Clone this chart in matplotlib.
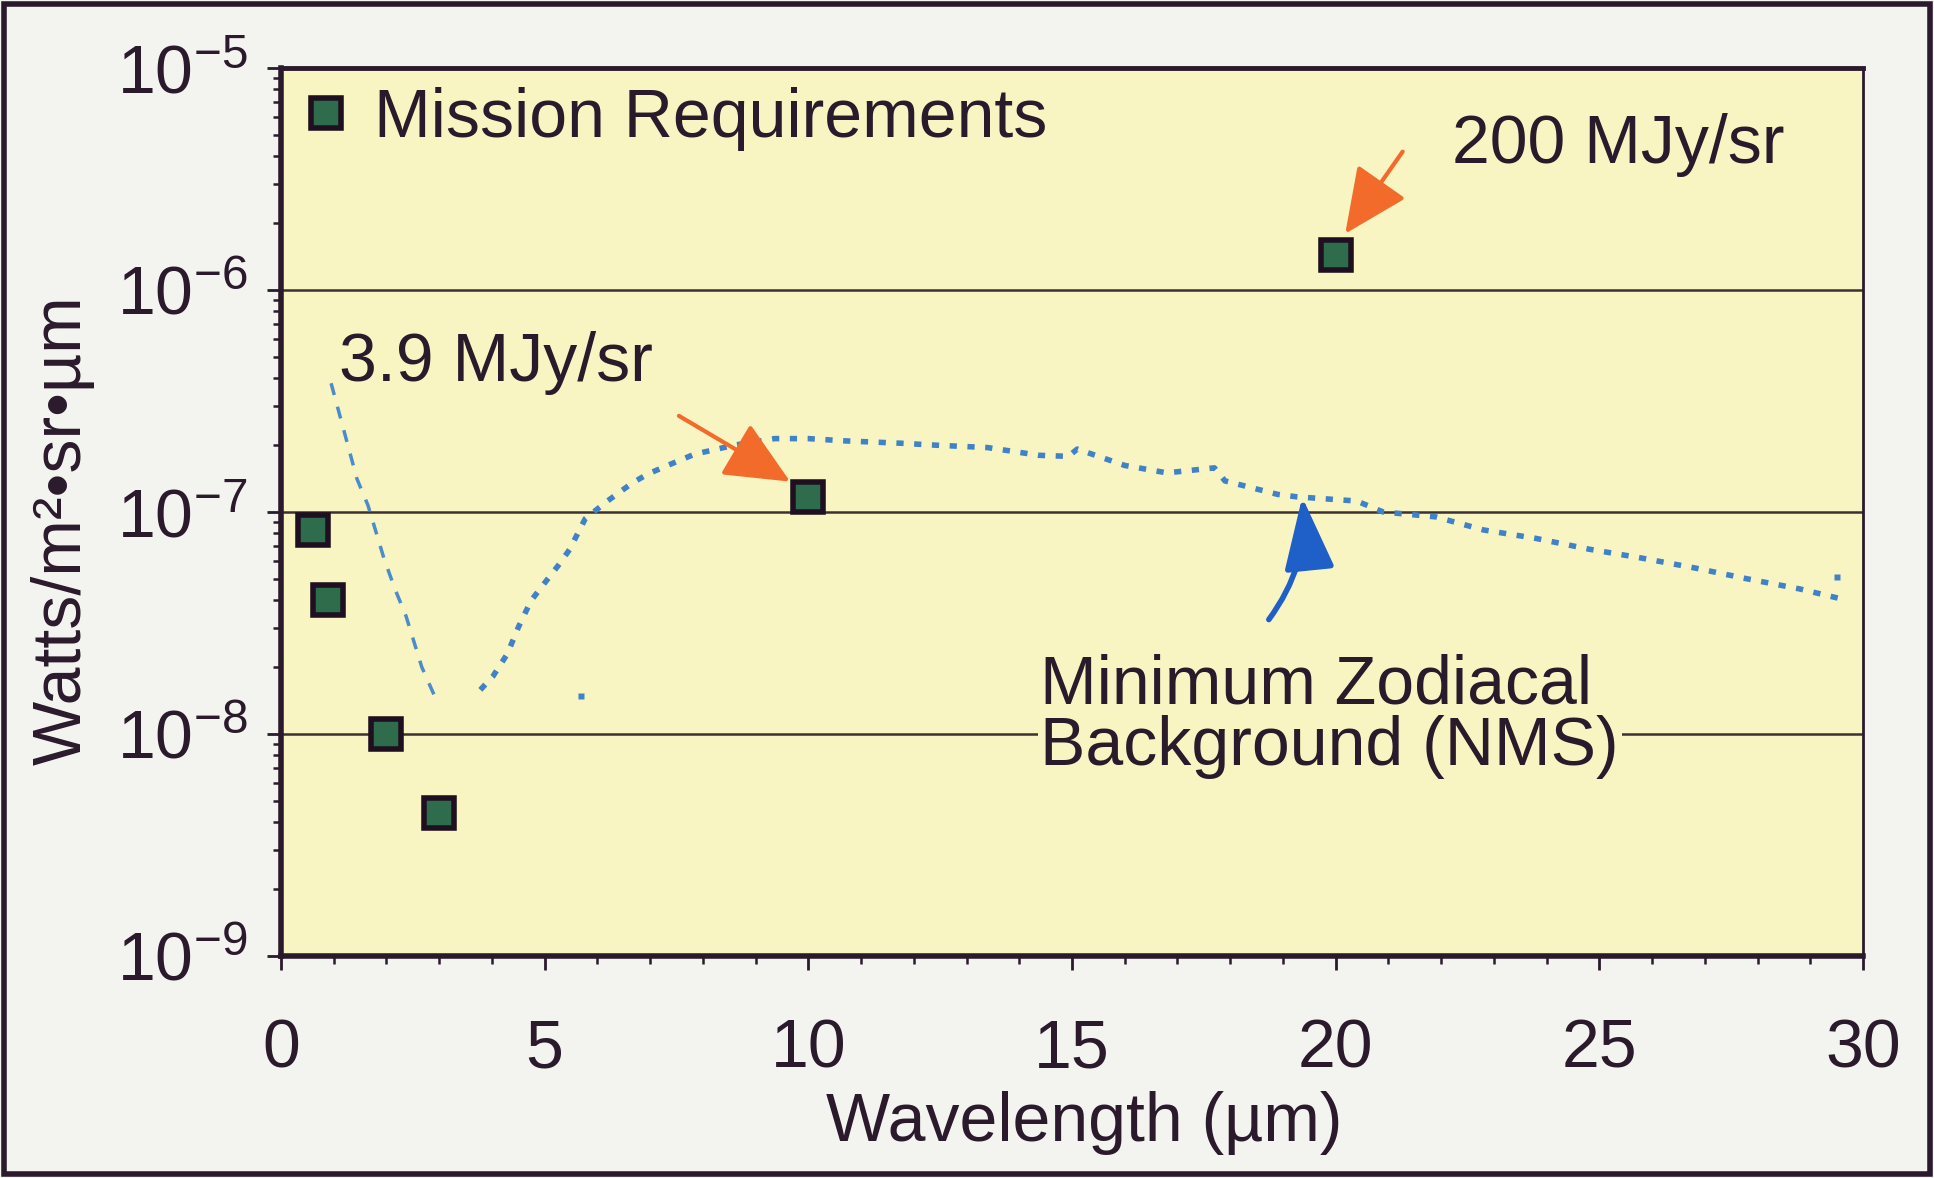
import numpy as np
import matplotlib
matplotlib.use("Agg")
import matplotlib.pyplot as plt
from matplotlib.ticker import FixedLocator, MultipleLocator, FuncFormatter, LogLocator, NullFormatter
from matplotlib.patches import Rectangle

plt.rcParams['font.family'] = ['Liberation Sans', 'DejaVu Sans']
plt.rcParams['mathtext.fontset'] = 'custom'
plt.rcParams['mathtext.rm'] = 'Liberation Sans'

# mission requirement points (wavelength um, W/m2/sr/um)
req_wl = [0.6, 0.9, 2.0, 3.0, 10.0, 20.0]
req_val = [8.3e-8, 4.0e-8, 1.0e-8, 4.4e-9, 1.17e-7, 1.44e-6]

# minimum zodiacal background, short wavelength part (dashed)
zodi_wl_short = [0.95, 1.44, 1.65, 1.95, 2.16, 2.37, 2.67, 2.97]
zodi_val_short = [3.8e-7, 1.41e-7, 1.07e-7, 6.2e-8, 4.5e-8, 3.4e-8, 2.0e-8, 1.38e-8]

# minimum zodiacal background, rest (dotted)
zodi_wl = [3.78, 4.02, 4.29, 4.5, 4.74, 5.0, 5.26, 5.47, 5.77, 6.19, 6.66, 6.95, 7.33,
           7.84, 8.6, 9.36, 10.0, 10.7, 11.75, 12.4, 13.4, 14.37, 14.93, 15.1, 16.0,
           16.8, 17.7, 17.9, 18.9, 19.26, 20.4, 20.9, 21.9, 22.8, 23.8, 24.8, 25.8,
           26.8, 27.8, 28.8, 29.7]
zodi_val = [1.58e-8, 1.82e-8, 2.29e-8, 3.02e-8, 3.98e-8, 4.79e-8, 5.75e-8, 6.76e-8,
            9.33e-8, 1.12e-7, 1.35e-7, 1.48e-7, 1.62e-7, 1.82e-7, 2.0e-7, 2.14e-7,
            2.14e-7, 2.09e-7, 2.04e-7, 2.0e-7, 1.95e-7, 1.80e-7, 1.78e-7, 1.92e-7,
            1.62e-7, 1.50e-7, 1.58e-7, 1.38e-7, 1.2e-7, 1.17e-7, 1.12e-7, 1.0e-7,
            9.5e-8, 8.3e-8, 7.6e-8, 6.8e-8, 6.2e-8, 5.6e-8, 5.0e-8, 4.5e-8, 4.0e-8]
stray_wl = [5.68, 29.5]
stray_val = [1.48e-8, 5.1e-8]

y_exponents = [-9, -8, -7, -6, -5]
grid_levels = [1e-8, 1e-7, 1e-6]
x_ticks = [0, 5, 10, 15, 20, 25, 30]

ink = '#2a1a2c'
yellow = '#f8f5c2'
blue = '#3f82c8'
fs = 49

fig = plt.figure(figsize=(19.34, 11.78), dpi=100)
fig.patch.set_facecolor('#f3f3f0')
ax = fig.add_axes([0.1453, 0.1885, 0.8180, 0.7538])
ax.set_facecolor(yellow)

# horizontal lines
for g in grid_levels:
    ax.axhline(g, color='#3a3035', lw=1.8, zorder=1)

ax.plot(zodi_wl_short, zodi_val_short, color='#4a8ccc', lw=2.5,
        linestyle=(0, (3.5, 3.5)), zorder=2)
ax.plot(zodi_wl, zodi_val, color=blue, lw=4, linestyle=(0, (1.3, 1.9)), zorder=2)
ax.plot(stray_wl, stray_val, 's', color=blue, ms=4, mec='none', ls='none', zorder=2)

ax.plot(req_wl, req_val, 's', ms=21, mfc='#2f6c4c', mec='#1e1020', mew=4,
        ls='none', label='Mission Requirements', zorder=4)

ax.set_yscale('log')
ax.set_xlim(0, 30)
ax.set_ylim(1e-9, 1e-5)

ax.yaxis.set_major_locator(FixedLocator([10.0 ** e for e in y_exponents]))
ax.yaxis.set_minor_locator(LogLocator(base=10, subs=np.arange(2, 10)))
ax.yaxis.set_minor_formatter(NullFormatter())
ax.yaxis.set_major_formatter(FuncFormatter(
    lambda v, p: r'$\mathregular{10^{%d}}$' % int(round(np.log10(v)))))
ax.xaxis.set_major_locator(FixedLocator(x_ticks))
ax.xaxis.set_minor_locator(MultipleLocator(1))

ax.tick_params(axis='both', which='major', direction='out', length=10, width=2,
               color=ink, labelcolor=ink, labelsize=fs)
ax.tick_params(axis='both', which='minor', direction='out', length=6, width=1.8, color=ink)
ax.tick_params(axis='x', which='major', pad=34)
ax.tick_params(axis='y', which='major', pad=14)

for side, w in [('left', 4), ('bottom', 4), ('top', 3.5), ('right', 2)]:
    ax.spines[side].set_linewidth(w)
    ax.spines[side].set_color(ink)

ax.set_xlabel('Wavelength (µm)', fontsize=fs, color=ink)
ax.set_ylabel('Watts/m²•sr•µm', fontsize=fs, color=ink)
ax.xaxis.set_label_coords(0.508, -0.152)
ax.yaxis.set_label_coords(-0.118, 0.48)

leg = ax.legend(loc='upper left', bbox_to_anchor=(-0.021, 1.048), frameon=False,
                fontsize=fs, handlelength=0.5, handletextpad=0.45, markerscale=1.0)
for t in leg.get_texts():
    t.set_color(ink)

# annotations
orange = dict(arrowstyle='-|>,head_length=0.7,head_width=0.32', color='#f26b2b',
              lw=3, mutation_scale=58)
ax.text(22.2, 4.5e-6, '200 MJy/sr', fontsize=fs, color=ink, va='center', ha='left')
ax.annotate('', xy=(20.15, 1.75e-6), xytext=(21.3, 4.3e-6), arrowprops=orange)

ax.text(1.1, 4.7e-7, '3.9 MJy/sr', fontsize=fs, color=ink, va='center', ha='left')
ax.annotate('', xy=(9.7, 1.35e-7), xytext=(7.5, 2.75e-7), arrowprops=orange)

ax.text(14.4, 1.2e-8, 'Minimum Zodiacal\nBackground (NMS)', fontsize=fs, color=ink,
        va='center', ha='left', linespacing=0.95,
        bbox=dict(facecolor=yellow, edgecolor='none', pad=2), zorder=3)
ax.annotate('', xy=(19.36, 1.2e-7), xytext=(18.7, 3.2e-8),
            arrowprops=dict(arrowstyle='-|>,head_length=0.75,head_width=0.26',
                            color='#1f5fc8', lw=4, mutation_scale=60,
                            connectionstyle='arc3,rad=0.2'))

# frame around the whole picture
fig.patches.append(Rectangle((0.002, 0.003), 0.996, 0.994, transform=fig.transFigure,
                             fill=False, lw=4, edgecolor=ink))

fig.savefig('out.png', dpi=100, facecolor=fig.get_facecolor())
